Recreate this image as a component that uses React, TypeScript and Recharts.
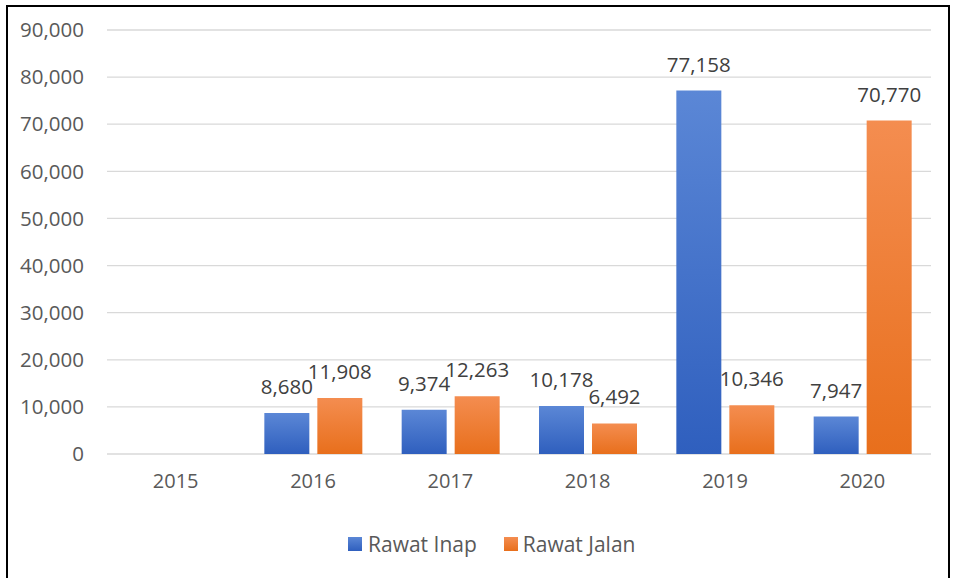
import React from 'react';
import { BarChart, Bar, XAxis, YAxis, CartesianGrid, LabelList } from 'recharts';

const years = ['2015', '2016', '2017', '2018', '2019', '2020'];
const rawatInap: (number | null)[] = [null, 8680, 9374, 10178, 77158, 7947];
const rawatJalan: (number | null)[] = [null, 11908, 12263, 6492, 10346, 70770];
const yTicks = [0, 10000, 20000, 30000, 40000, 50000, 60000, 70000, 80000, 90000];

const data = years.map((y, i) => ({ year: y, inap: rawatInap[i], jalan: rawatJalan[i] }));

const FONT = '"Open Sans", "Noto Sans", sans-serif';
const fmt = (v: any) => (v == null ? '' : Number(v).toLocaleString('en-US'));

export default function App() {
  return (
    <div style={{ position: 'absolute', left: 0, top: 0, width: 956, height: 578, overflow: 'hidden', background: '#fff', fontFamily: FONT }}>
      <div style={{ position: 'absolute', left: 6, top: 5, width: 940, height: 620, border: '2px solid #000' }} />
      <div style={{ position: 'absolute', left: 0, top: 0 }}>
        <BarChart width={956} height={578} data={data} margin={{ top: 30, right: 25, bottom: 0, left: 0 }} barSize={45} barGap={8}>
          <defs>
            <linearGradient id="gBlue" x1="0" y1="0" x2="0" y2="1">
              <stop offset="0%" stopColor="#5B87D6" />
              <stop offset="100%" stopColor="#2F5FBE" />
            </linearGradient>
            <linearGradient id="gOrange" x1="0" y1="0" x2="0" y2="1">
              <stop offset="0%" stopColor="#F48D50" />
              <stop offset="100%" stopColor="#E86F1C" />
            </linearGradient>
          </defs>
          <CartesianGrid vertical={false} stroke="#D9D9D9" strokeWidth={1.3} />
          <XAxis dataKey="year" height={124} axisLine={false} tickLine={false} tickSize={0} tickMargin={20}
            tick={{ fill: '#595959', fontSize: 20, fontFamily: FONT }} />
          <YAxis width={107} domain={[0, 90000]} ticks={yTicks} axisLine={false} tickLine={false} tickSize={0} tickMargin={23}
            tickFormatter={fmt} tick={{ fill: '#595959', fontSize: 20.5, fontFamily: FONT }} />
          <Bar dataKey="inap" name="Rawat Inap" fill="url(#gBlue)" isAnimationActive={false}>
            <LabelList dataKey="inap" position="top" offset={19} formatter={fmt} style={{ fill: '#404040', fontSize: 20.5, fontFamily: FONT }} />
          </Bar>
          <Bar dataKey="jalan" name="Rawat Jalan" fill="url(#gOrange)" isAnimationActive={false}>
            <LabelList dataKey="jalan" position="top" offset={19} formatter={fmt} style={{ fill: '#404040', fontSize: 20.5, fontFamily: FONT }} />
          </Bar>
        </BarChart>
      </div>
      <div style={{ position: 'absolute', left: 348, top: 530, display: 'flex', alignItems: 'center', height: 28, color: '#595959', fontSize: 21, fontFamily: FONT }}>
        <span style={{ display: 'inline-block', width: 14, height: 14, background: 'linear-gradient(#5B87D6, #2F5FBE)', marginRight: 6 }} />
        <span>Rawat Inap</span>
        <span style={{ display: 'inline-block', width: 14, height: 14, background: 'linear-gradient(#F48D50, #E86F1C)', marginLeft: 27, marginRight: 5 }} />
        <span>Rawat Jalan</span>
      </div>
    </div>
  );
}
